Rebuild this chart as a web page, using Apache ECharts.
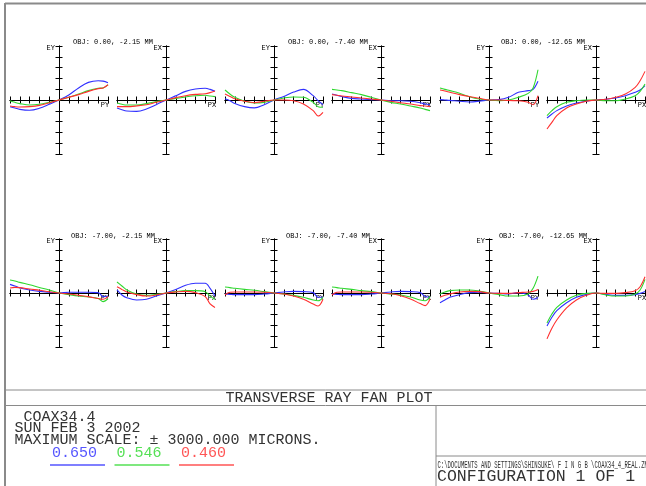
<!DOCTYPE html>
<html>
<head>
<meta charset="utf-8">
<script src="https://cdn.jsdelivr.net/npm/echarts@6/dist/echarts.min.js"></script>
<style>
  html, body { margin: 0; padding: 0; background: #fff; }
  #chart { width: 646px; height: 486px; }
</style>
</head>
<body>
<div id="chart"></div>
<script>
// relative pupil coordinate (PY / PX), shared by every fan
const pupil = [-1, -0.9, -0.8, -0.6, -0.4, -0.2, 0, 0.2, 0.4, 0.6, 0.8, 0.9, 1]

const fieldLabels = [
  'OBJ: 0.00, -2.15 MM', 'OBJ: 0.00, -7.40 MM', 'OBJ: 0.00, -12.65 MM',
  'OBJ: -7.00, -2.15 MM', 'OBJ: -7.00, -7.40 MM', 'OBJ: -7.00, -12.65 MM'
]
const wavelengths = ['0.650', '0.546', '0.460']
const waveColors = ['#3030ff', '#2fd82f', '#ff2f2f']
const legendColors = ['#5555ff', '#55e055', '#ff5555']

// transverse aberration in microns (scale +-3000)
// field 1
const ey1Blue = [-370, -440, -520, -570, -460, -240, 0, 280, 670, 980, 1070, 1050, 960]
const ey1Green = [-40, -130, -200, -280, -240, -130, 0, 150, 330, 520, 650, 670, 850]
const ey1Red = [-330, -370, -390, -370, -300, -150, 0, 150, 300, 480, 630, 670, 850]
const ex1Blue = [-440, -540, -610, -630, -500, -260, 0, 240, 480, 610, 650, 590, 480]
const ex1Green = [-170, -240, -280, -280, -200, -90, 0, 90, 170, 240, 260, 220, 185]
const ex1Red = [-370, -370, -370, -330, -260, -130, 0, 130, 240, 310, 350, 410, 500]
// field 2
const ey2Blue = [70, -40, -190, -370, -440, -260, 0, 200, 440, 590, 240, -40, -260]
const ey2Green = [555, 330, 150, -70, -170, -130, 0, 110, 170, 150, -130, -370, -400]
const ey2Red = [330, 200, 70, -70, -150, -70, 0, 0, -40, -220, -590, -890, -685]
const ex2Blue = [330, 260, 190, 90, 55, 20, 0, -40, -40, -70, -150, -220, -260]
const ex2Green = [590, 555, 520, 410, 300, 150, 0, -130, -220, -330, -440, -520, -590]
const ex2Red = [300, 260, 220, 170, 110, 55, 0, -70, -150, -220, -310, -330, -370]
// field 3
const ey3Blue = [20, 0, -20, -70, -110, -70, 0, 20, 150, 425, 520, 590, 1040]
const ey3Green = [670, 590, 520, 370, 185, 55, 0, -40, 0, 150, 370, 670, 1680]
const ey3Red = [555, 500, 430, 300, 190, 100, 0, 0, -30, -40, -130, -260, 240]
const ex3Blue = [-1000, -780, -590, -330, -170, -70, 0, 40, 110, 240, 425, 555, 800]
const ex3Green = [-870, -590, -370, -130, -40, 0, 0, -40, -40, 55, 240, 480, 890]
const ex3Red = [-1610, -1240, -870, -440, -220, -70, 0, 40, 150, 330, 700, 1070, 1590]
// field 4
const ey4Blue = [480, 390, 280, 170, 90, 40, 0, 40, 40, 40, 20, -200, -170]
const ey4Green = [720, 670, 590, 460, 310, 170, 0, -90, -170, -220, -310, -480, -310]
const ey4Red = [280, 310, 300, 220, 150, 70, 0, -55, -130, -200, -310, -350, -200]
const ex4Blue = [170, -110, -260, -390, -350, -170, 0, 200, 430, 540, 540, 260, -170]
const ex4Green = [610, 390, 170, -55, -130, -75, 0, 75, 130, 130, 75, -170, -350]
const ex4Red = [350, 200, 55, -90, -170, -110, 0, 55, 90, 20, -200, -610, -800]
// field 5
const ey5Blue = [-55, -75, -90, -90, -90, -55, 0, 55, 90, 75, 20, -240, -240]
const ey5Green = [330, 300, 260, 200, 150, 75, 0, -55, -130, -240, -390, -430, -240]
const ey5Red = [-110, 40, 55, 55, 55, 40, 0, -55, -170, -350, -610, -720, -350]
const ex5Blue = [-60, -75, -90, -90, -90, -55, 0, 55, 90, 75, 20, -200, -240]
const ex5Green = [330, 300, 260, 200, 130, 75, 0, -55, -110, -220, -390, -430, -200]
const ex5Red = [-110, 40, 55, 55, 55, 40, 0, -40, -150, -330, -590, -700, -330]
// field 6
const ey6Blue = [-540, -390, -240, -90, 20, 40, 0, -20, -55, 20, -110, -350, -250]
const ey6Green = [-55, 55, 130, 170, 170, 110, 0, -90, -170, -170, -55, 260, 940]
const ey6Red = [-240, -130, -55, 55, 90, 75, 0, -20, -20, 20, 55, 90, 200]
const ex6Blue = [-1830, -1350, -980, -540, -240, -75, 0, -75, -130, -130, -90, -20, 90]
const ex6Green = [-1660, -1170, -800, -390, -130, -20, 0, -110, -170, -170, -55, 170, 760]
const ex6Red = [-2550, -1960, -1500, -830, -390, -130, 0, -20, -20, 20, 130, 350, 900]

const panels = [
  { field: 0, kind: 'Y', fans: [ey1Blue, ey1Green, ey1Red] },
  { field: 0, kind: 'X', fans: [ex1Blue, ex1Green, ex1Red] },
  { field: 1, kind: 'Y', fans: [ey2Blue, ey2Green, ey2Red] },
  { field: 1, kind: 'X', fans: [ex2Blue, ex2Green, ex2Red] },
  { field: 2, kind: 'Y', fans: [ey3Blue, ey3Green, ey3Red] },
  { field: 2, kind: 'X', fans: [ex3Blue, ex3Green, ex3Red] },
  { field: 3, kind: 'Y', fans: [ey4Blue, ey4Green, ey4Red] },
  { field: 3, kind: 'X', fans: [ex4Blue, ex4Green, ex4Red] },
  { field: 4, kind: 'Y', fans: [ey5Blue, ey5Green, ey5Red] },
  { field: 4, kind: 'X', fans: [ex5Blue, ex5Green, ex5Red] },
  { field: 5, kind: 'Y', fans: [ey6Blue, ey6Green, ey6Red] },
  { field: 5, kind: 'X', fans: [ex6Blue, ex6Green, ex6Red] }
]

const MONO = '"Liberation Mono", "DejaVu Sans Mono", monospace'
const TEXT = '#333'
const FRAME = '#8a8a8a'

const grids = []
const xAxes = []
const yAxes = []
const series = []

panels.forEach((panel, i) => {
  const row = panel.field < 3 ? 0 : 1
  const col = panel.field % 3
  grids.push({
    left: 10 + 215 * col + (panel.kind === 'X' ? 107 : 0),
    top: row ? 239 : 46,
    width: 98,
    height: 108,
    containLabel: false,
    outerBoundsMode: 'none'
  })
  // two axes per direction so the ticks cross the line on both sides
  ;[false, true].forEach(inside => {
    const main = !inside
    xAxes.push({
      gridIndex: i,
      type: 'value',
      position: 'bottom',
      min: -1,
      max: 1,
      interval: 0.2,
      name: main ? 'P' + panel.kind : '',
      nameLocation: 'end',
      nameGap: -3,
      nameMoveOverlap: false,
      nameTextStyle: {
        fontFamily: MONO, fontSize: 7, color: '#000',
        align: 'center', verticalAlign: 'top', padding: [2, 0, 0, 0]
      },
      axisLine: { onZero: true, lineStyle: { color: '#000', width: 1 } },
      axisTick: { inside, length: 3.5, lineStyle: { color: '#000', width: 1 } },
      axisLabel: { show: false },
      splitLine: { show: false }
    })
    yAxes.push({
      gridIndex: i,
      type: 'value',
      position: 'left',
      min: -3000,
      max: 3000,
      interval: 600,
      name: main ? 'E' + panel.kind : '',
      nameLocation: 'end',
      nameGap: -2,
      nameMoveOverlap: false,
      nameTextStyle: {
        fontFamily: MONO, fontSize: 7, color: '#000',
        align: 'right', verticalAlign: 'middle', padding: [0, 4, 0, 0]
      },
      axisLine: { onZero: true, lineStyle: { color: '#000', width: 1 } },
      axisTick: { inside, length: 3.5, lineStyle: { color: '#000', width: 1 } },
      axisLabel: { show: false },
      splitLine: { show: false }
    })
  })
  panel.fans.forEach((fan, w) => {
    series.push({
      type: 'line',
      xAxisIndex: 2 * i,
      yAxisIndex: 2 * i,
      data: pupil.map((p, k) => [p, fan[k]]),
      showSymbol: false,
      smooth: 0.35,
      z: 3 + w,
      lineStyle: { color: waveColors[w], width: 1.1 },
      silent: true
    })
  })
})

const hline = (x1, x2, y, w) => ({
  type: 'line', silent: true,
  shape: { x1, y1: y, x2, y2: y },
  style: { stroke: FRAME, lineWidth: w || 1 }
})
const vline = (x, y1, y2, w) => ({
  type: 'line', silent: true,
  shape: { x1: x, y1, x2: x, y2 },
  style: { stroke: FRAME, lineWidth: w || 1 }
})
const label = (text, x, y, size, opts) => ({
  type: 'text', silent: true, x, y,
  style: Object.assign({
    text, font: size + 'px ' + MONO, fill: TEXT,
    align: 'left', verticalAlign: 'middle'
  }, opts || {})
})

const graphics = [
  vline(5, 3, 486, 2),
  hline(5, 646, 3.5, 2),
  hline(5, 646, 390),
  hline(5, 646, 405.5),
  vline(436, 405.5, 486),
  hline(436, 646, 456)
]

fieldLabels.forEach((text, f) => {
  const row = f < 3 ? 0 : 1
  const col = f % 3
  graphics.push(label(text, 113 + 215 * col, row ? 236 : 42, 7, { align: 'center', fill: '#000' }))
})

graphics.push(label('TRANSVERSE RAY FAN PLOT', 432.5, 398, 15, { align: 'right' }))
graphics.push(label(' COAX34.4', 14.5, 417, 15))
graphics.push(label('SUN FEB 3 2002', 14.5, 428.5, 15))
graphics.push(label('MAXIMUM SCALE: \u00b1 3000.000 MICRONS.', 14.5, 440.5, 15))
wavelengths.forEach((wl, w) => {
  graphics.push(label(wl, 52 + 64.5 * w, 453, 15, { fill: legendColors[w] }))
  graphics.push({
    type: 'line', silent: true,
    shape: { x1: 50 + 64.5 * w, y1: 465, x2: 105 + 64.5 * w, y2: 465 },
    style: { stroke: legendColors[w], lineWidth: 1.5 }
  })
})
graphics.push(Object.assign(
  label('C:\\DOCUMENTS AND SETTINGS\\SHINSUKE\\ F I N G B \\COAX34_4_REAL.ZMX', 437.5, 465, 10.5),
  { scaleX: 0.53 }
))
graphics.push(label('CONFIGURATION 1 OF 1', 437, 476.5, 16.5))

const chart = echarts.init(document.getElementById('chart'))
chart.setOption({
  animation: false,
  backgroundColor: '#fff',
  grid: grids,
  xAxis: xAxes,
  yAxis: yAxes,
  series,
  graphic: graphics
})
</script>
</body>
</html>
